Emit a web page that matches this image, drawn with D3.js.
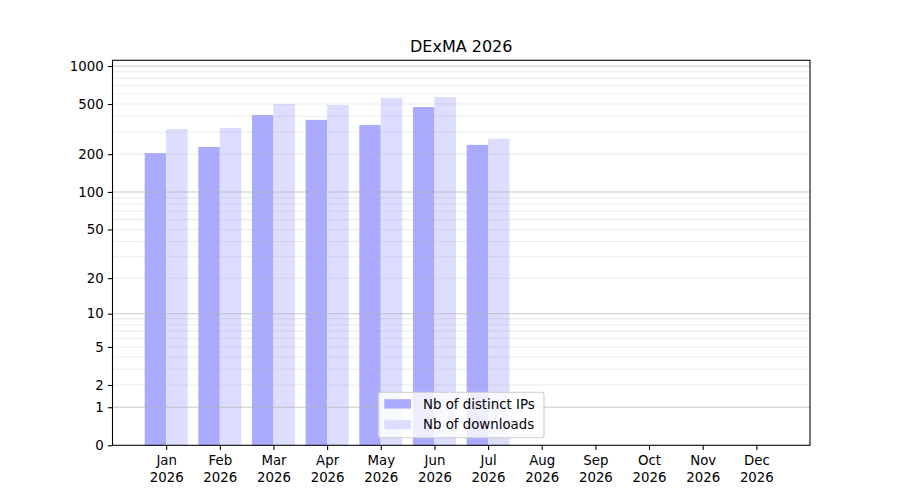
<!DOCTYPE html>
<html>
<head>
<meta charset="utf-8">
<script src="https://cdn.jsdelivr.net/npm/d3@7"></script>
<style>
  html, body { margin: 0; padding: 0; background: #fff; }
  svg { display: block; font-family: "DejaVu Sans", sans-serif; }
</style>
</head>
<body>
<div id="chart"></div>
<script>
// ---- data ----
const title = "DExMA 2026";
const months = ["Jan", "Feb", "Mar", "Apr", "May", "Jun", "Jul", "Aug", "Sep", "Oct", "Nov", "Dec"];
const yearLabel = "2026";
const distinctIPs = [204, 228, 409, 374, 341, 473, 237, 0, 0, 0, 0, 0];
const downloads   = [317, 323, 500, 491, 559, 568, 265, 0, 0, 0, 0, 0];
const seriesNames = ["Nb of distinct IPs", "Nb of downloads"];
const yTickValues = [0, 1, 2, 5, 10, 20, 50, 100, 200, 500, 1000];
const yMajorGrid = [1, 10, 100, 1000];
const yMinorGrid = [2, 3, 4, 5, 6, 7, 8, 9, 20, 30, 40, 50, 60, 70, 80, 90, 200, 300, 400, 500, 600, 700, 800, 900];

// ---- layout ----
const W = 900, H = 500;
const L = 112.5, R = 810, T = 60.3, B = 445.3;
const colors = ["#aaaaff", "#ddddff"];
const fontSize = 13.33;

const svg = d3.select("#chart").append("svg").attr("width", W).attr("height", H);

const x = d3.scaleLinear().domain([-1, 12]).range([L, R]);
const y = d3.scaleSymlog().constant(1).domain([0, 1110]).range([B, T]);

const barW = 0.4;
const idx = d3.range(months.length);

// bars
const g = svg.append("g");
g.selectAll("rect.ip").data(idx).enter().append("rect")
  .attr("x", i => x(i - barW)).attr("width", x(barW) - x(0))
  .attr("y", i => y(distinctIPs[i])).attr("height", i => y(0) - y(distinctIPs[i]))
  .attr("fill", colors[0]);
g.selectAll("rect.dl").data(idx).enter().append("rect")
  .attr("x", i => x(i)).attr("width", x(barW) - x(0))
  .attr("y", i => y(downloads[i])).attr("height", i => y(0) - y(downloads[i]))
  .attr("fill", colors[1]);

// grid (on top of bars, like matplotlib axisbelow='line')
svg.append("g").selectAll("line").data(yMinorGrid).enter().append("line")
  .attr("x1", L).attr("x2", R).attr("y1", d => y(d)).attr("y2", d => y(d))
  .attr("stroke", "#b0b0b0").attr("stroke-opacity", 0.25).attr("stroke-width", 1.07);
svg.append("g").selectAll("line").data(yMajorGrid).enter().append("line")
  .attr("x1", L).attr("x2", R).attr("y1", d => y(d)).attr("y2", d => y(d))
  .attr("stroke", "#b0b0b0").attr("stroke-opacity", 0.7).attr("stroke-width", 1.07);

// axes
const yAxis = d3.axisLeft(y).tickValues(yTickValues).tickFormat(d3.format("d"))
  .tickSize(4.67).tickPadding(4.2);
const ya = svg.append("g").attr("transform", `translate(${L},0)`).call(yAxis);
ya.select(".domain").remove();
ya.selectAll(".tick line").attr("stroke", "#000").attr("stroke-width", 1.07);
ya.selectAll(".tick text").attr("font-size", fontSize).attr("fill", "#000")
  .attr("font-family", "DejaVu Sans, sans-serif");

const xAxis = d3.axisBottom(x).tickValues(idx).tickFormat(() => "").tickSize(4.67);
const xa = svg.append("g").attr("transform", `translate(0,${B})`).call(xAxis);
xa.select(".domain").remove();
xa.selectAll(".tick line").attr("stroke", "#000").attr("stroke-width", 1.07);
xa.selectAll(".tick").each(function(i) {
  const t = d3.select(this).append("text").attr("fill", "#000").attr("font-size", fontSize)
    .attr("text-anchor", "middle").attr("font-family", "DejaVu Sans, sans-serif");
  t.append("tspan").attr("x", 0).attr("y", 20.2).text(months[i]);
  t.append("tspan").attr("x", 0).attr("y", 36.7).text(yearLabel);
});

// spines
svg.append("rect").attr("x", L).attr("y", T).attr("width", R - L).attr("height", B - T)
  .attr("fill", "none").attr("stroke", "#000").attr("stroke-width", 1.07);

// title
svg.append("text").attr("x", (L + R) / 2).attr("y", 52).attr("text-anchor", "middle")
  .attr("font-size", 16).attr("fill", "#000").text(title);

// legend
const lg = svg.append("g");
lg.append("rect").attr("x", 378.3).attr("y", 392.3).attr("width", 165.7).attr("height", 45.4)
  .attr("rx", 2.8).attr("fill", "#fff").attr("fill-opacity", 0.8)
  .attr("stroke", "#cccccc").attr("stroke-width", 1.07);
seriesNames.forEach((name, k) => {
  const yy = 399.2 + k * 20.6;
  lg.append("rect").attr("x", 384.3).attr("y", yy).attr("width", 26.7).attr("height", 9.4)
    .attr("fill", colors[k]);
  lg.append("text").attr("x", 423).attr("y", yy + 9.6).attr("font-size", fontSize)
    .attr("fill", "#000").text(name);
});
</script>
</body>
</html>
